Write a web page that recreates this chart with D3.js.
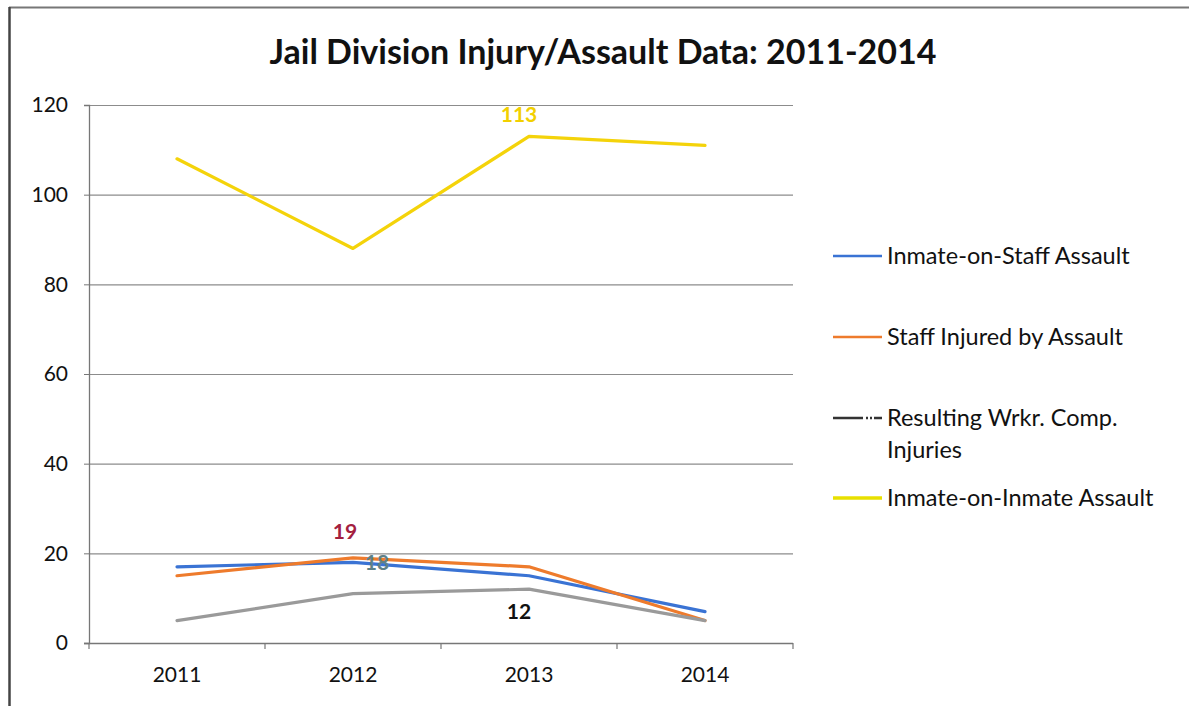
<!DOCTYPE html>
<html>
<head>
<meta charset="utf-8">
<script src="https://cdn.jsdelivr.net/npm/d3@7"></script>
<style>
  html, body { margin: 0; padding: 0; background: #fff; }
  svg { display: block; }
  text { font-family: Lato, "Open Sans", sans-serif; }
</style>
</head>
<body>
<svg id="chart" width="1189" height="706"></svg>
<script>
// Yearly counts for the jail division
const years = ["2011", "2012", "2013", "2014"];
const inmateOnStaff = [17, 18, 15, 7];
const staffInjured = [15, 19, 17, 5];
const wrkrComp = [5, 11, 12, 5];
const inmateOnInmate = [108, 88, 113, 111];
const yTicks = [0, 20, 40, 60, 80, 100, 120];

const seriesNames = [
  "Inmate-on-Staff Assault",
  "Staff Injured by Assault",
  "Resulting Wrkr. Comp. Injuries",
  "Inmate-on-Inmate Assault"
];
const seriesColors = ["#3a73d4", "#ee7b2c", "#9a9a9a", "#f4d30a"];
const seriesValues = [inmateOnStaff, staffInjured, wrkrComp, inmateOnInmate];

// Value labels: series index, year index, text colour, offsets
const valueLabels = [
  { s: 3, i: 2, color: "#f2d000", dx: -10, dy: -14 },
  { s: 1, i: 1, color: "#a3203f", dx: -8, dy: -19 },
  { s: 0, i: 1, color: "#5e8188", dx: 24, dy: 8 },
  { s: 2, i: 2, color: "#111111", dx: -10, dy: 30 }
];

const svg = d3.select("#chart");

// Outer frame
svg.append("line").attr("x1", 9).attr("x2", 1189).attr("y1", 7.5).attr("y2", 7.5)
  .attr("stroke", "#777").attr("stroke-width", 2);
svg.append("line").attr("x1", 9.5).attr("x2", 9.5).attr("y1", 7).attr("y2", 706)
  .attr("stroke", "#444").attr("stroke-width", 2.5);

// Title
svg.append("text")
  .attr("x", 603).attr("y", 64)
  .attr("text-anchor", "middle")
  .attr("font-size", 34).attr("font-weight", "bold").attr("fill", "#111")
  .text("Jail Division Injury/Assault Data: 2011-2014");

const plotLeft = 89, plotRight = 793, plotTop = 105, plotBottom = 643;

const x = d3.scaleBand().domain(years).range([plotLeft, plotRight]);
const y = d3.scaleLinear().domain([0, 120]).range([plotBottom, plotTop]);

// Horizontal gridlines
svg.append("g")
  .selectAll("line")
  .data(yTicks.filter(t => t > 0))
  .join("line")
  .attr("x1", plotLeft).attr("x2", plotRight)
  .attr("y1", d => y(d) + 0.5).attr("y2", d => y(d) + 0.5)
  .attr("stroke", "#8c8c8c").attr("stroke-width", 1.2);

// Y axis
const yAxis = svg.append("g")
  .attr("transform", `translate(${plotLeft},0)`)
  .call(d3.axisLeft(y).tickValues(yTicks).tickSize(5).tickPadding(16));
yAxis.select(".domain").attr("stroke", "#777").attr("stroke-width", 1.3);
yAxis.selectAll(".tick line").attr("stroke", "#777");
yAxis.selectAll(".tick text")
  .attr("font-size", 21).attr("fill", "#111")
  .attr("font-family", "Lato, 'Open Sans', sans-serif");

// X axis
const xAxis = svg.append("g")
  .attr("transform", `translate(0,${plotBottom})`)
  .call(d3.axisBottom(x).tickSize(0).tickPadding(24));
xAxis.select(".domain").remove();
xAxis.selectAll(".tick text")
  .attr("font-size", 21).attr("fill", "#111")
  .attr("font-family", "Lato, 'Open Sans', sans-serif");
svg.append("line")
  .attr("x1", plotLeft - 5).attr("x2", plotRight)
  .attr("y1", plotBottom + 0.5).attr("y2", plotBottom + 0.5)
  .attr("stroke", "#777").attr("stroke-width", 1.3);
svg.append("g")
  .selectAll("line")
  .data(years.map(yr => x(yr)).concat([plotRight]))
  .join("line")
  .attr("x1", d => d).attr("x2", d => d)
  .attr("y1", plotBottom).attr("y2", plotBottom + 6)
  .attr("stroke", "#777").attr("stroke-width", 1.2);

// Series lines
const line = d3.line()
  .x((d, i) => x(years[i]) + x.bandwidth() / 2)
  .y(d => y(d));

svg.append("g")
  .selectAll("path")
  .data(seriesValues)
  .join("path")
  .attr("d", d => line(d))
  .attr("fill", "none")
  .attr("stroke", (d, i) => seriesColors[i])
  .attr("stroke-width", 3.2)
  .attr("stroke-linejoin", "round")
  .attr("stroke-linecap", "round");

// Value labels
svg.append("g")
  .selectAll("text")
  .data(valueLabels)
  .join("text")
  .attr("x", d => x(years[d.i]) + x.bandwidth() / 2 + d.dx)
  .attr("y", d => y(seriesValues[d.s][d.i]) + d.dy)
  .attr("text-anchor", "middle")
  .attr("font-size", 21).attr("font-weight", "bold")
  .attr("fill", d => d.color)
  .text(d => seriesValues[d.s][d.i]);

// Legend
const legendRows = [
  { lines: ["Inmate-on-Staff Assault"], y: 256 },
  { lines: ["Staff Injured by Assault"], y: 337 },
  { lines: ["Resulting Wrkr. Comp.", "Injuries"], y: 418 },
  { lines: ["Inmate-on-Inmate Assault"], y: 498 }
];
const legendSwatch = ["#3a73d4", "#ee7b2c", "#333333", "#e8e000"];
const legend = svg.append("g");
legendRows.forEach((row, i) => {
  legend.append("line")
    .attr("x1", 833).attr("x2", 882)
    .attr("y1", row.y).attr("y2", row.y)
    .attr("stroke", legendSwatch[i])
    .attr("stroke-width", i === 3 ? 3.5 : 2.5)
    .attr("stroke-dasharray", i === 2 ? "30,3,2,2,2,2" : null);
  row.lines.forEach((t, k) => {
    legend.append("text")
      .attr("x", 887).attr("y", row.y + 8 + k * 32)
      .attr("font-size", 23.5).attr("fill", "#111")
      .text(t);
  });
});
</script>
</body>
</html>
